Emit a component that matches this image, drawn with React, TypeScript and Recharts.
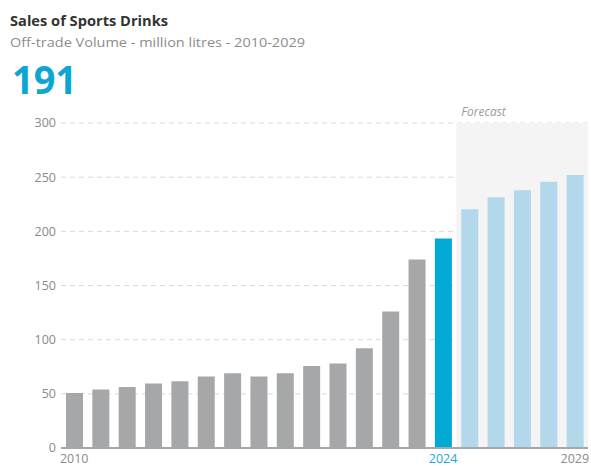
import React from 'react';
import { BarChart, Bar, XAxis, YAxis, CartesianGrid, ReferenceArea, Cell } from 'recharts';

const years = ['2010', '2011', '2012', '2013', '2014', '2015', '2016', '2017', '2018', '2019', '2020', '2021', '2022', '2023', '2024', '2025', '2026', '2027', '2028', '2029'];
const volumes = [50.7, 54, 56.2, 59.5, 61.7, 66, 69.1, 66, 69.1, 75.8, 78, 92.1, 125.9, 174.1, 193.5, 220.5, 231.5, 238, 245.7, 252.1];
const currentYear = '2024';
const forecastStart = '2025';
const forecastEnd = '2029';
const shownYearTicks = ['2010', '2024', '2029'];
const yTicks = [0, 50, 100, 150, 200, 250, 300];
const title = 'Sales of Sports Drinks';
const subtitle = 'Off-trade Volume - million litres - 2010-2029';
const headline = '191';
const forecastLabel = 'Forecast';

const data = years.map((year, i) => ({ year, volume: volumes[i] }));

const GRAY = '#a6a7a9';
const CYAN = '#00aad4';
const LIGHT = '#b3d8eb';
const FONT = "'Open Sans', sans-serif";

const colorFor = (year: string) => {
  if (year === currentYear) return CYAN;
  if (Number(year) > Number(currentYear)) return LIGHT;
  return GRAY;
};

const YearTick = (props: any) => {
  const { x, y, payload } = props;
  if (!shownYearTicks.includes(payload.value)) return <g />;
  return (
    <text
      x={x}
      y={y + 14.5}
      textAnchor="middle"
      fill={payload.value === currentYear ? '#1aa9d6' : '#8a8a8a'}
      fontSize={12.5}
      fontFamily={FONT}
    >
      {payload.value}
    </text>
  );
};

const ForecastLabel = (props: any) => {
  const vb = props.viewBox || {};
  return (
    <text
      x={(vb.x || 0) + 5}
      y={(vb.y || 0) - 7}
      fill="#9a9a9a"
      fontSize={12}
      fontStyle="italic"
      fontFamily={FONT}
    >
      {forecastLabel}
    </text>
  );
};

export default function App() {
  return (
    <div style={{ position: 'absolute', left: 0, top: 0, width: 591, height: 466, background: '#fff' }}>
      <svg width={591} height={110} style={{ position: 'absolute', left: 0, top: 0 }}>
        <text x={10} y={26} fontSize={15} fontWeight="bold" fill="#333333" fontFamily={FONT} textLength={158} lengthAdjust="spacingAndGlyphs">
          {title}
        </text>
        <text x={10} y={46.7} fontSize={13} fill="#8c8c8c" fontFamily={FONT} textLength={295} lengthAdjust="spacingAndGlyphs">
          {subtitle}
        </text>
        <text x={12} y={94.3} fontSize={38.5} fontWeight="bold" fill="#0ba6d2" fontFamily={FONT} textLength={65} lengthAdjust="spacingAndGlyphs">
          {headline}
        </text>
      </svg>
      <div style={{ position: 'absolute', left: 0, top: 0 }}>
        <BarChart width={591} height={466} data={data} margin={{ top: 123, right: 3, bottom: 0, left: 0 }} barSize={17}>
          <ReferenceArea
            x1={forecastStart}
            x2={forecastEnd}
            fill="#f4f4f4"
            fillOpacity={1}
            stroke="none"
            ifOverflow="visible"
            label={<ForecastLabel />}
          />
          <CartesianGrid vertical={false} stroke="#d9d9d9" strokeDasharray="5 4" />
          <XAxis
            dataKey="year"
            interval={0}
            height={18}
            tickSize={0}
            tickMargin={0}
            tickLine={false}
            axisLine={{ stroke: GRAY, strokeWidth: 2 }}
            tick={<YearTick />}
          />
          <YAxis
            domain={[0, 300]}
            ticks={yTicks}
            width={61}
            tickSize={0}
            tickMargin={5}
            tickLine={false}
            axisLine={false}
            tick={{ fill: '#8a8a8a', fontSize: 12.5, fontFamily: FONT }}
          />
          <Bar dataKey="volume" isAnimationActive={false}>
            {data.map((d) => (
              <Cell key={d.year} fill={colorFor(d.year)} />
            ))}
          </Bar>
        </BarChart>
      </div>
    </div>
  );
}
